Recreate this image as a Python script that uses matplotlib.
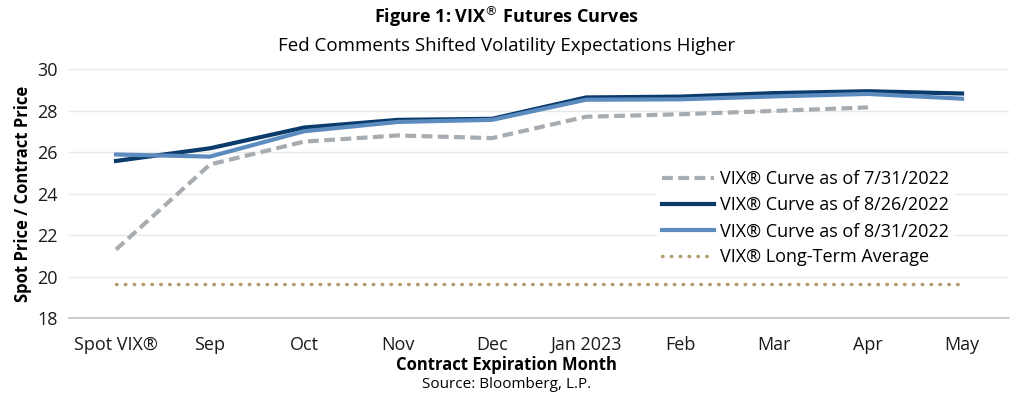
import matplotlib
matplotlib.use("Agg")
import matplotlib.pyplot as plt

plt.rcParams["font.family"] = ["Open Sans", "DejaVu Sans"]

meses = ["Spot VIX®", "Sep", "Oct", "Nov", "Dec", "Jan 2023", "Feb", "Mar", "Apr", "May"]
curva_0731 = [21.3, 25.4, 26.5, 26.8, 26.67, 27.7, 27.82, 27.98, 28.15]
curva_0826 = [25.57, 26.18, 27.18, 27.55, 27.6, 28.63, 28.67, 28.84, 28.93, 28.82]
curva_0831 = [25.88, 25.78, 27.0, 27.45, 27.55, 28.52, 28.54, 28.68, 28.8, 28.57]
promedio_lp = 19.62

AZUL = "#0b3b6b"
CELESTE = "#5c8bbf"
GRIS = "#a7acb1"
DORADO = "#b29d6c"

fig = plt.figure(figsize=(10.24, 3.99), dpi=100)
ax = fig.add_axes([0.0674, 0.203, 0.918, 0.624])

x = list(range(len(meses)))
ax.plot(x[:len(curva_0731)], curva_0731, color=GRIS, lw=3, dashes=(2.6, 1.3),
        label="VIX® Curve as of 7/31/2022")
ax.plot(x, curva_0826, color=AZUL, lw=3, label="VIX® Curve as of 8/26/2022")
ax.plot(x, curva_0831, color=CELESTE, lw=3, label="VIX® Curve as of 8/31/2022")
ax.plot(x, [promedio_lp] * len(x), color=DORADO, lw=2.5, dashes=(0.15, 2.4),
        dash_capstyle="round", label="VIX® Long-Term Average")

ax.set_xlim(-0.5, len(meses) - 0.5)
ax.set_ylim(18, 30)
ax.set_yticks(range(18, 31, 2))
ax.set_xticks(x)
ax.set_xticklabels(meses)
ax.tick_params(axis="both", length=0, labelsize=13, colors="#1a1a1a")
ax.tick_params(axis="x", pad=13)
ax.tick_params(axis="y", pad=8)
ax.grid(axis="y", color="#e8e8e8", lw=1)
ax.set_axisbelow(True)
for lado in ["top", "right", "left"]:
    ax.spines[lado].set_visible(False)
ax.spines["bottom"].set_color("#c4c4c4")
ax.spines["bottom"].set_linewidth(1.2)

ax.set_ylabel("Spot Price / Contract Price", fontsize=12, fontweight="bold", labelpad=4)

leg = ax.legend(loc="upper left", bbox_to_anchor=(0.6155, 0.652), fontsize=13,
                frameon=True, framealpha=1, edgecolor="white", handlelength=2.9,
                handletextpad=0.3, labelspacing=0.45, borderpad=0.3)

fig.text(0.495, 0.958, "Figure 1: VIX$^{\u00ae}$ Futures Curves", ha="center", va="center",
         fontsize=13, fontweight="bold")
fig.text(0.495, 0.885, "Fed Comments Shifted Volatility Expectations Higher", ha="center",
         va="center", fontsize=13.5)
fig.text(0.495, 0.086, "Contract Expiration Month", ha="center", va="center",
         fontsize=12, fontweight="bold")
fig.text(0.495, 0.037, "Source: Bloomberg, L.P.", ha="center", va="center", fontsize=11)

fig.savefig("out.png", dpi=100)
